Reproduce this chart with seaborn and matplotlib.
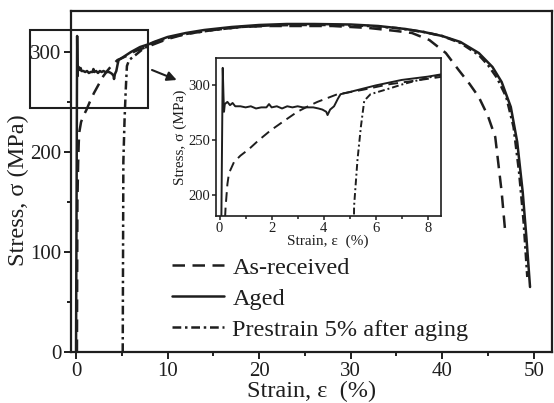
import numpy as np
import pandas as pd
import matplotlib
matplotlib.use("Agg")
import matplotlib.pyplot as plt
from matplotlib.patches import Rectangle
import seaborn as sns

# ---- data ----
aged_strain = [0, 0.12, 0.15, 0.17, 0.2, 0.3, 0.4, 0.5, 0.6, 0.8, 1.0, 1.2, 1.4, 1.6, 1.8, 1.9, 2.0,
               2.2, 2.4, 2.6, 2.8, 3.0, 3.2, 3.4, 3.6, 3.8, 3.95, 4.1, 4.15, 4.25, 4.4, 4.55, 4.65,
               5.0, 5.5, 6.0, 7.0, 8.0, 8.5, 10, 12, 14, 17, 20, 23, 26, 30, 33, 36, 38, 40, 42,
               44, 45.5, 46.5, 47.5, 48.2, 48.8, 49.2, 49.6]
aged_stress = [0, 316, 290, 276, 283, 285, 282, 284, 281, 281, 280, 281, 279, 280, 280, 283, 280,
               281, 279, 281, 280, 281, 280, 280, 280, 279, 278, 276, 273, 278, 281, 288, 292,
               294, 297, 300, 305, 308, 310, 315, 319, 322, 325, 327, 328, 328, 327.5, 326, 323,
               320, 316, 310, 299, 285, 270, 245, 210, 160, 115, 65]

asrec_strain = [0.1, 0.15, 0.23, 0.3, 0.36, 0.55, 0.8, 1.13, 1.5, 1.96, 2.5, 2.99, 3.4, 3.76, 4.2,
                4.53, 4.8, 5.5, 6.5, 8, 10, 12, 15, 18, 21, 24, 28, 32, 35, 36.7, 38.6, 40.4,
                41.8, 43, 44, 45, 45.8, 46.5, 46.9]
asrec_stress = [0, 150, 189, 210, 220, 230, 236, 242, 250, 259, 268, 276, 281, 285, 289,
                292, 293, 296, 301, 306, 313, 318, 322, 325, 326, 326, 326, 324, 321, 319, 312,
                299, 282, 268, 255, 236, 215, 160, 119]

pre_strain = [5.1, 5.17, 5.3, 5.43, 5.56, 5.8, 6.5, 7.1, 8.0, 8.5, 10, 12, 15, 18, 21, 24, 28, 32,
              35, 38, 40, 42, 44, 45, 46, 47, 47.8, 48.4, 48.9, 49.3]
pre_stress = [0, 190, 232, 262, 286, 292, 297, 301.5, 307, 309.5, 314, 318, 322, 325, 326.5, 327,
              327, 326, 324, 320, 316, 309, 297, 287, 274, 255, 225, 180, 130, 75]

labels = ["As-received", "Aged", "Prestrain 5% after aging"]
main_xticks = [0, 10, 20, 30, 40, 50]
main_yticks = [0, 100, 200, 300]
inset_xticks = [0, 2, 4, 6, 8]
inset_yticks = [200, 250, 300]

sns.set_style("ticks")
plt.rcParams['font.family'] = ['Liberation Serif', 'DejaVu Serif']
plt.rcParams['mathtext.fontset'] = 'stix'
ink = '#1e1e1e'
plt.rcParams['text.color'] = ink
plt.rcParams['axes.labelcolor'] = ink
plt.rcParams['xtick.color'] = ink
plt.rcParams['ytick.color'] = ink
plt.rcParams['axes.edgecolor'] = ink

fig = plt.figure(figsize=(5.54, 4.03), dpi=100)
ax = fig.add_axes([71/554, 1-352/403, (552-71)/554, (352-11)/403])

series = [
    (asrec_strain, asrec_stress, (0, (5, 3))),
    (aged_strain, aged_stress, '-'),
    (pre_strain, pre_stress, (0, (3.5, 1.5, 1, 1.5))),
]

def draw(a, lw, legend):
    for (xs, ys, ls), lab in zip(series, labels):
        df = pd.DataFrame({"x": xs, "y": ys})
        sns.lineplot(data=df, x="x", y="y", ax=a, sort=False, estimator=None,
                     color=ink, lw=lw, linestyle=ls, label=lab if legend else None)

draw(ax, 1.8, True)
ax.set_xlim(-0.55, 52)
ax.set_ylim(0, 341)
ax.set_xticks(main_xticks)
ax.set_yticks(main_yticks)
ax.set_xticks([5, 15, 25, 35, 45], minor=True)
ax.set_yticks([50, 150, 250], minor=True)
ax.tick_params(which='major', direction='out', length=5, width=1.4, labelsize=15, pad=2)
ax.tick_params(which='minor', direction='out', length=3, width=1.4)
for s in ax.spines.values():
    s.set_linewidth(1.6)
ax.set_xlabel("Strain, ε  (%)", fontsize=17.5, labelpad=0)
ax.set_ylabel("Stress, σ (MPa)", fontsize=17.5)
ax.yaxis.set_label_coords(-0.087, 0.475)

leg = ax.legend(loc='lower left', bbox_to_anchor=(0.21, 0.033), frameon=False, fontsize=17.5,
                handlelength=2.15, handletextpad=0.33, labelspacing=0.37, borderpad=0,
                borderaxespad=0)

# highlight box and arrow
ax.add_patch(Rectangle((-5.0, 244), 12.85, 78, fill=False, lw=1.5, ec=ink, clip_on=False, zorder=5))
ax.annotate('', xy=(11.0, 272), xytext=(8.3, 282),
            arrowprops=dict(arrowstyle='-|>', color=ink, lw=1.5, mutation_scale=14,
                            shrinkA=0, shrinkB=0))

# inset
ins = fig.add_axes([215.7/554, 1-216/403, (440.7-215.7)/554, (216-58)/403])
ins.set_facecolor('white')
draw(ins, 1.4, False)
ins.set_xlim(-0.15, 8.5)
ins.set_ylim(181, 325)
ins.set_xticks(inset_xticks)
ins.set_yticks(inset_yticks)
ins.set_xticks([1, 3, 5, 7], minor=True)
ins.tick_params(which='major', direction='out', length=3, width=1.1, labelsize=10.5, pad=1)
ins.tick_params(which='minor', direction='out', length=2, width=1.1)
for s in ins.spines.values():
    s.set_linewidth(1.2)
ins.set_xlabel("Strain, ε  (%)", fontsize=11, labelpad=0)
ins.set_ylabel("Stress, σ (MPa)", fontsize=11, labelpad=1)

fig.savefig("out.png", dpi=100)
